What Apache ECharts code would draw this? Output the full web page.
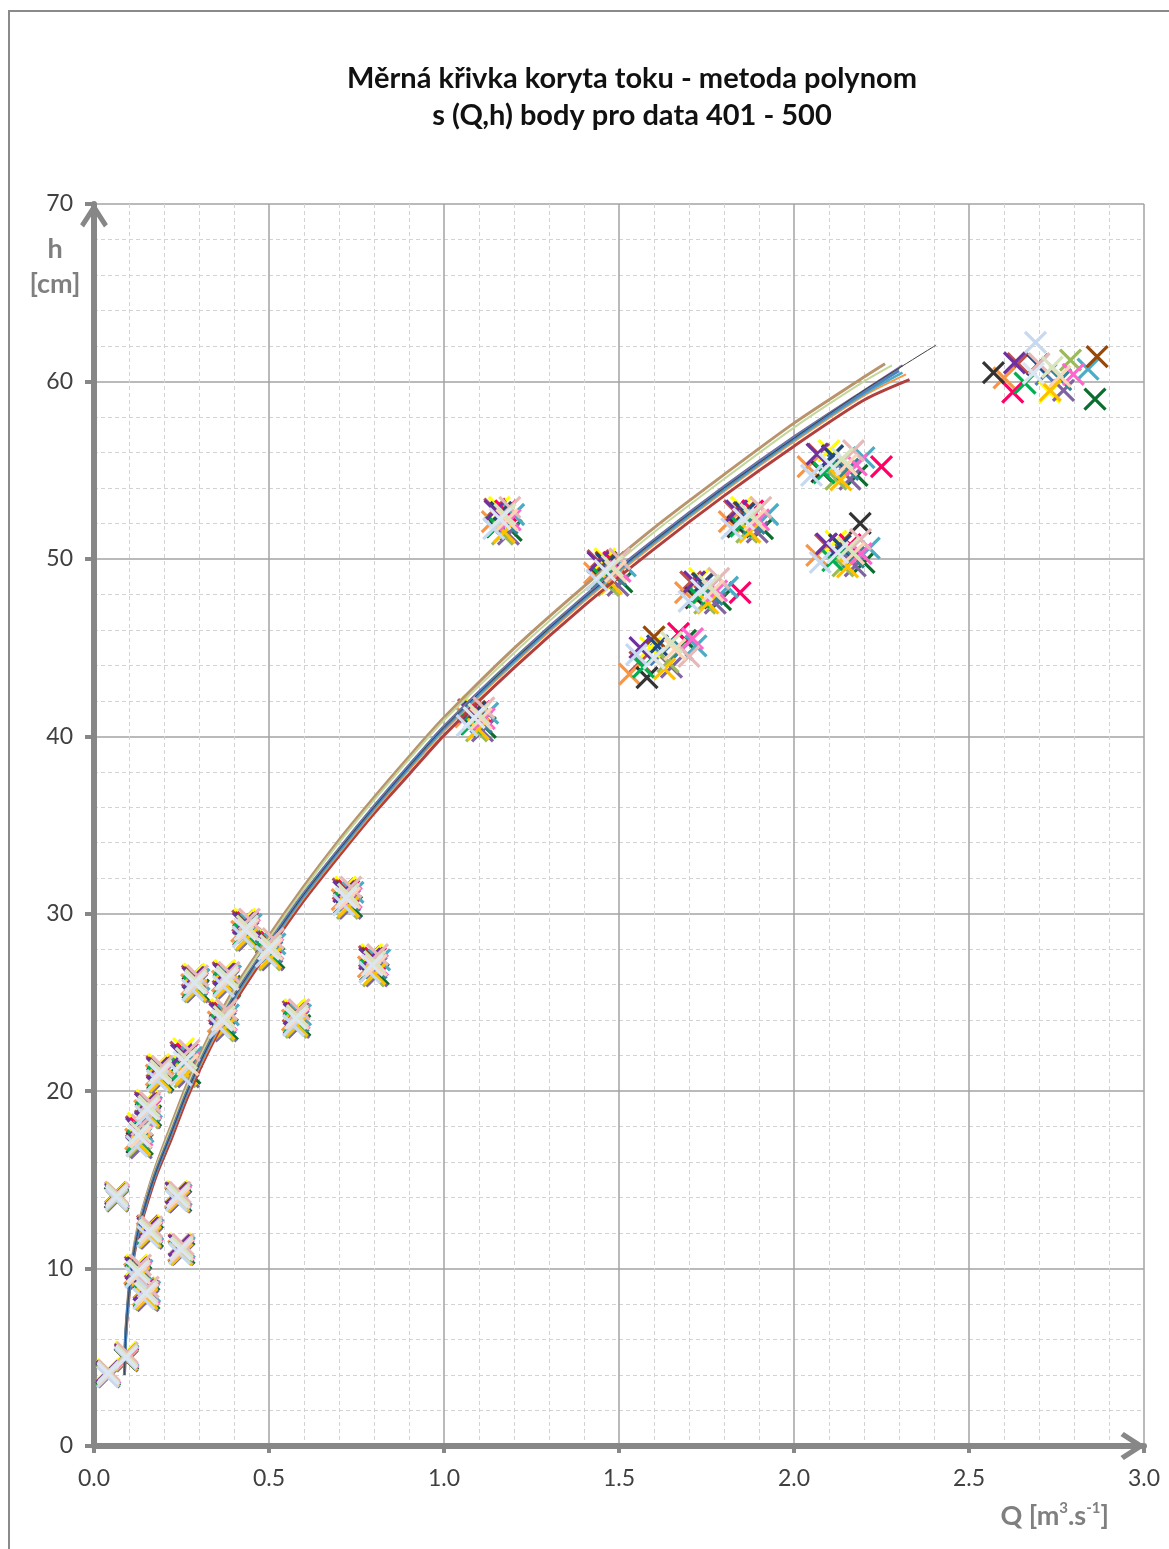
<!DOCTYPE html>
<html>
<head>
<meta charset="utf-8">
<script src="https://cdn.jsdelivr.net/npm/echarts@6/dist/echarts.min.js"></script>
<style>
html,body{margin:0;padding:0;background:#fff;}
#chart{width:1169px;height:1549px;}
</style>
</head>
<body>
<div id="chart"></div>
<script>
// ---- DATA ----
const titleLines = ['Měrná křivka koryta toku - metoda polynom', 's (Q,h) body pro data 401 - 500'];

// marker colours, one per data set (index = position inside each point group)
const markerColors = ['#4F81BD','#C0504D','#0B6E2E','#FFFF00','#8064A2','#F79646','#FF0066',
  '#4BACC6','#333333','#9BBB59','#984807','#E6B9B8','#C6D9F1','#FCD5B5',
  '#1F497D','#31859C','#00B050','#FFC000','#FF66CC','#7030A0','#D7E4BD','#DCE6F2'];
// order in which the data sets are drawn (pale ones last, on top)
const drawOrderLow = [0,1,2,3,4,5,6,7,8,9,10,14,15,16,17,18,19];
const drawOrderHigh = [11,12,13,20,21];

// measured (Q, h) points: one group per measuring point, one entry per data set
const clusterPoints = [
 [[0.041,4.1],[0.038,4.2],[0.044,4.0],[0.040,4.3],[0.043,3.9],[0.039,4.0],[0.042,4.2],[0.045,4.1],[0.037,4.1],[0.041,3.95],[0.040,4.15],[0.043,4.25],[0.039,3.9],[0.042,4.05],[0.040,4.2],[0.042,4.05],[0.039,4.0],[0.041,3.95],[0.044,4.1],[0.038,4.2],[0.041,4.15],[0.040,4.1]],
 [[0.093,5.0],[0.090,5.2],[0.096,4.9],[0.092,5.3],[0.095,4.8],[0.091,5.0],[0.094,5.15],[0.097,5.1],[0.089,4.9],[0.093,4.85],[0.092,5.1],[0.095,5.25],[0.090,4.95],[0.094,5.05],[0.092,5.1],[0.094,4.95],[0.091,4.9],[0.093,4.85],[0.096,5.0],[0.090,5.15],[0.094,5.1],[0.092,5.0]],
 [[0.065,14.1],[0.062,14.3],[0.068,13.9],[0.064,14.3],[0.067,13.8],[0.063,14.0],[0.066,14.2],[0.069,14.1],[0.061,14.0],[0.065,13.85],[0.064,14.15],[0.067,14.25],[0.063,13.9],[0.066,14.05],[0.064,14.15],[0.066,14.0],[0.063,13.95],[0.065,13.9],[0.068,14.05],[0.062,14.2],[0.066,14.15],[0.064,14.05]],
 [[0.127,9.8],[0.118,10.1],[0.134,9.5],[0.122,10.2],[0.131,9.4],[0.116,9.7],[0.129,10.0],[0.137,9.9],[0.120,9.6],[0.126,9.45],[0.124,10.05],[0.133,10.2],[0.119,9.5],[0.130,9.75],[0.125,10.0],[0.131,9.7],[0.122,9.65],[0.128,9.5],[0.134,9.8],[0.120,10.0],[0.129,9.9],[0.124,9.8]],
 [[0.150,8.6],[0.143,8.9],[0.157,8.3],[0.146,8.9],[0.154,8.2],[0.141,8.5],[0.152,8.8],[0.159,8.7],[0.144,8.4],[0.149,8.25],[0.147,8.75],[0.155,8.95],[0.142,8.3],[0.153,8.55],[0.148,8.8],[0.154,8.5],[0.145,8.45],[0.151,8.3],[0.157,8.6],[0.143,8.8],[0.152,8.7],[0.147,8.6]],
 [[0.160,12.1],[0.153,12.4],[0.167,11.8],[0.157,12.4],[0.164,11.7],[0.152,12.0],[0.162,12.3],[0.168,12.2],[0.155,11.9],[0.159,11.75],[0.158,12.25],[0.165,12.35],[0.154,11.8],[0.163,12.05],[0.158,12.25],[0.164,12.0],[0.156,11.95],[0.161,11.8],[0.166,12.1],[0.154,12.3],[0.162,12.2],[0.157,12.1]],
 [[0.241,14.1],[0.234,14.3],[0.248,13.8],[0.238,14.35],[0.245,13.75],[0.233,14.0],[0.243,14.25],[0.249,14.15],[0.236,13.9],[0.240,13.8],[0.239,14.2],[0.246,14.3],[0.235,13.85],[0.244,14.0],[0.239,14.2],[0.245,13.95],[0.237,13.9],[0.242,13.8],[0.247,14.05],[0.235,14.25],[0.243,14.15],[0.238,14.05]],
 [[0.250,11.1],[0.243,11.35],[0.257,10.85],[0.247,11.4],[0.254,10.8],[0.242,11.0],[0.252,11.3],[0.258,11.2],[0.245,10.9],[0.249,10.8],[0.248,11.25],[0.255,11.35],[0.244,10.85],[0.253,11.05],[0.248,11.25],[0.254,11.0],[0.246,10.95],[0.251,10.8],[0.256,11.1],[0.244,11.3],[0.252,11.2],[0.247,11.1]],
 [[0.130,17.5],[0.121,18.0],[0.138,17.0],[0.126,18.2],[0.135,16.8],[0.119,17.3],[0.133,17.9],[0.140,17.7],[0.123,17.1],[0.129,16.9],[0.127,17.8],[0.137,18.1],[0.122,16.9],[0.134,17.4],[0.128,17.8],[0.134,17.35],[0.125,17.2],[0.131,17.0],[0.137,17.5],[0.122,17.9],[0.132,17.7],[0.127,17.5]],
 [[0.155,19.0],[0.147,19.4],[0.162,18.6],[0.151,19.5],[0.159,18.5],[0.145,18.9],[0.157,19.3],[0.164,19.1],[0.149,18.7],[0.154,18.5],[0.152,19.3],[0.160,19.4],[0.148,18.6],[0.158,19.0],[0.153,19.2],[0.159,18.9],[0.150,18.8],[0.156,18.6],[0.162,19.0],[0.147,19.3],[0.157,19.15],[0.152,19.0]],
 [[0.189,21.0],[0.180,21.4],[0.197,20.6],[0.185,21.5],[0.194,20.5],[0.178,20.9],[0.191,21.3],[0.199,21.2],[0.182,20.7],[0.188,20.5],[0.186,21.3],[0.195,21.4],[0.181,20.6],[0.192,21.0],[0.187,21.2],[0.193,20.9],[0.184,20.8],[0.190,20.6],[0.196,21.0],[0.181,21.3],[0.191,21.15],[0.186,21.0]],
 [[0.262,21.6],[0.248,22.2],[0.274,21.0],[0.256,22.4],[0.270,20.8],[0.245,21.4],[0.266,22.1],[0.279,21.9],[0.251,21.1],[0.260,20.8],[0.258,22.0],[0.272,22.3],[0.249,20.9],[0.268,21.5],[0.259,22.0],[0.268,21.4],[0.254,21.25],[0.264,20.95],[0.272,21.6],[0.250,22.05],[0.264,21.85],[0.257,21.65]],
 [[0.290,26.1],[0.281,26.5],[0.298,25.7],[0.286,26.6],[0.295,25.6],[0.279,26.0],[0.292,26.4],[0.300,26.3],[0.283,25.8],[0.289,25.6],[0.287,26.4],[0.296,26.5],[0.282,25.7],[0.293,26.1],[0.288,26.3],[0.293,26.0],[0.285,25.9],[0.291,25.7],[0.296,26.1],[0.283,26.4],[0.291,26.25],[0.287,26.1]],
 [[0.379,26.3],[0.369,26.7],[0.388,25.9],[0.374,26.8],[0.385,25.8],[0.367,26.2],[0.382,26.6],[0.390,26.5],[0.372,26.0],[0.378,25.8],[0.376,26.6],[0.386,26.7],[0.370,25.9],[0.383,26.3],[0.377,26.5],[0.383,26.2],[0.374,26.1],[0.380,25.9],[0.386,26.3],[0.371,26.6],[0.381,26.45],[0.376,26.3]],
 [[0.370,24.0],[0.358,24.5],[0.381,23.5],[0.364,24.6],[0.377,23.4],[0.355,23.9],[0.373,24.4],[0.384,24.3],[0.361,23.7],[0.369,23.4],[0.366,24.4],[0.379,24.6],[0.359,23.6],[0.375,24.0],[0.367,24.3],[0.375,23.85],[0.364,23.7],[0.371,23.5],[0.378,24.0],[0.360,24.35],[0.372,24.2],[0.366,24.0]],
 [[0.436,29.1],[0.425,29.6],[0.446,28.6],[0.431,29.7],[0.442,28.5],[0.422,29.0],[0.439,29.5],[0.449,29.4],[0.428,28.8],[0.435,28.5],[0.433,29.5],[0.444,29.7],[0.426,28.7],[0.440,29.1],[0.434,29.4],[0.440,28.95],[0.430,28.85],[0.437,28.6],[0.444,29.1],[0.427,29.45],[0.438,29.3],[0.432,29.1]],
 [[0.503,28.0],[0.491,28.5],[0.514,27.5],[0.497,28.6],[0.510,27.4],[0.488,27.9],[0.506,28.4],[0.517,28.3],[0.494,27.7],[0.502,27.4],[0.499,28.4],[0.512,28.6],[0.492,27.6],[0.508,28.0],[0.500,28.3],[0.508,27.85],[0.497,27.75],[0.504,27.5],[0.511,28.0],[0.493,28.35],[0.505,28.2],[0.499,28.0]],
 [[0.579,24.1],[0.569,24.5],[0.588,23.7],[0.574,24.6],[0.585,23.6],[0.567,24.0],[0.582,24.4],[0.590,24.3],[0.572,23.8],[0.578,23.6],[0.576,24.4],[0.586,24.6],[0.570,23.7],[0.583,24.1],[0.577,24.3],[0.583,23.95],[0.574,23.9],[0.580,23.7],[0.586,24.1],[0.572,24.35],[0.581,24.25],[0.576,24.1]],
 [[0.725,30.9],[0.712,31.4],[0.736,30.4],[0.719,31.5],[0.732,30.3],[0.709,30.8],[0.728,31.3],[0.740,31.2],[0.716,30.6],[0.724,30.3],[0.721,31.3],[0.734,31.5],[0.713,30.5],[0.730,30.9],[0.722,31.2],[0.730,30.75],[0.718,30.6],[0.727,30.4],[0.735,30.9],[0.714,31.25],[0.727,31.1],[0.720,30.9]],
 [[0.800,27.1],[0.787,27.6],[0.812,26.6],[0.794,27.7],[0.808,26.5],[0.784,27.0],[0.804,27.5],[0.816,27.4],[0.791,26.8],[0.799,26.5],[0.796,27.5],[0.810,27.7],[0.788,26.7],[0.806,27.1],[0.797,27.4],[0.806,26.95],[0.792,26.8],[0.802,26.6],[0.810,27.1],[0.788,27.45],[0.802,27.3],[0.795,27.1]],
 [[1.095,41.0],[1.070,41.5],[1.118,40.5],[1.085,41.7],[1.110,40.3],[1.062,41.1],[1.102,41.4],[1.125,41.3],[1.078,40.7],[1.093,40.3],[1.088,41.4],[1.114,41.6],[1.066,40.6],[1.106,41.0],[1.089,41.35],[1.106,40.8],[1.080,40.7],[1.098,40.4],[1.115,41.0],[1.073,41.4],[1.100,41.25],[1.086,41.05]],
 [[1.169,52.2],[1.145,52.8],[1.192,51.6],[1.158,52.9],[1.184,51.4],[1.138,52.1],[1.176,52.7],[1.199,52.5],[1.152,51.8],[1.167,51.4],[1.162,52.6],[1.188,52.9],[1.142,51.7],[1.180,52.2],[1.163,52.6],[1.180,52.0],[1.154,51.85],[1.172,51.5],[1.189,52.2],[1.146,52.7],[1.174,52.5],[1.160,52.25]],
 [[1.474,49.3],[1.440,49.9],[1.508,48.7],[1.460,50.0],[1.497,48.5],[1.430,49.2],[1.485,49.8],[1.518,49.6],[1.450,48.9],[1.470,48.5],[1.463,49.8],[1.502,50.0],[1.437,48.8],[1.490,49.3],[1.465,49.7],[1.490,49.1],[1.452,48.95],[1.478,48.6],[1.503,49.3],[1.440,49.8],[1.481,49.6],[1.460,49.35]],
 [[1.620,44.6],[1.560,44.2],[1.690,45.4],[1.590,45.0],[1.650,43.9],[1.530,43.5],[1.670,45.8],[1.720,45.1],[1.580,43.3],[1.640,44.2],[1.600,45.6],[1.700,44.5],[1.550,44.6],[1.660,44.9],[1.610,45.1],[1.680,44.9],[1.570,43.9],[1.630,43.8],[1.710,45.5],[1.560,45.0],[1.650,45.3],[1.600,44.4]],
 [[1.750,48.2],[1.705,48.7],[1.790,47.7],[1.730,48.9],[1.775,47.5],[1.690,48.1],[1.846,48.1],[1.810,48.4],[1.720,47.8],[1.745,47.5],[1.738,48.6],[1.785,48.9],[1.700,47.6],[1.768,48.2],[1.741,48.6],[1.766,48.0],[1.728,47.85],[1.754,47.5],[1.779,48.2],[1.716,48.7],[1.757,48.5],[1.736,48.25]],
 [[1.870,52.2],[1.830,52.7],[1.910,51.7],[1.850,52.9],[1.895,51.5],[1.815,52.1],[1.882,52.7],[1.925,52.5],[1.840,51.8],[1.865,51.5],[1.857,52.6],[1.905,52.9],[1.822,51.7],[1.888,52.2],[1.861,52.6],[1.886,52.0],[1.848,51.85],[1.874,51.5],[1.899,52.2],[1.836,52.7],[1.877,52.5],[1.856,52.25]],
 [[2.126,55.3],[2.070,55.9],[2.180,54.7],[2.100,56.1],[2.160,54.5],[2.040,55.2],[2.250,55.2],[2.200,55.7],[2.080,54.9],[2.120,54.5],[2.110,55.8],[2.170,56.1],[2.050,54.7],[2.150,55.3],[2.110,55.8],[2.154,55.05],[2.086,54.85],[2.134,54.45],[2.178,55.3],[2.066,55.9],[2.138,55.65],[2.102,55.35]],
 [[2.146,50.3],[2.090,50.8],[2.200,49.8],[2.120,51.0],[2.175,49.6],[2.065,50.2],[2.160,50.8],[2.215,50.6],[2.189,52.0],[2.140,49.6],[2.130,50.8],[2.190,51.1],[2.075,49.8],[2.170,50.3],[2.132,50.75],[2.170,50.1],[2.111,49.9],[2.153,49.55],[2.192,50.3],[2.093,50.85],[2.156,50.6],[2.125,50.35]],
 [[2.720,60.4],[2.640,61.0],[2.860,59.0],[2.730,59.4],[2.770,59.5],[2.600,60.2],[2.625,59.4],[2.840,60.7],[2.570,60.5],[2.790,61.2],[2.866,61.4],[2.700,61.0],[2.690,62.2],[2.760,60.3],[2.696,60.95],[2.762,60.1],[2.660,59.9],[2.732,59.5],[2.798,60.4],[2.630,61.05],[2.738,60.8],[2.684,60.45]]
];

// rating curves (polynomials of the individual data sets), read at these discharges
const curveQ = [0.087,0.09,0.097,0.107,0.125,0.15,0.18,0.22,0.265,0.32,0.4,0.5,0.6,0.7,0.8,0.9,1.0,1.2,1.4,1.6,1.8,2.0,2.2];
const curveH = [
 [4.0,5.9,7.8,9.8,11.8,13.55,15.35,17.25,19.55,21.95,24.95,27.95,30.75,33.25,35.65,37.85,40.05,43.85,47.35,50.55,53.55,56.35,58.95],
 [4.0,6.1,8.2,10.2,12.3,14.1,15.95,18.05,20.35,22.75,25.75,28.75,31.55,34.15,36.55,38.85,41.05,44.95,48.45,51.75,54.75,57.65,60.25],
 [4.0,6.1,8.15,10.15,12.2,14.0,15.85,17.9,20.2,22.6,25.6,28.6,31.4,34.0,36.4,38.7,40.9,44.7,48.2,51.5,54.5,57.4,60.0],
 [4.0,5.95,7.9,9.9,11.9,13.7,15.5,17.45,19.75,22.1,25.1,28.1,30.9,33.4,35.8,38.1,40.3,44.1,47.6,50.8,53.8,56.6,59.2],
 [4.0,6.05,8.1,10.1,12.1,13.9,15.7,17.7,20.0,22.4,25.4,28.4,31.2,33.7,36.1,38.4,40.6,44.4,47.9,51.1,54.1,56.9,59.5],
 [4.0,6.0,8.05,10.05,12.05,13.85,15.65,17.65,19.95,22.35,25.35,28.35,31.15,33.65,36.05,38.35,40.55,44.35,47.85,51.05,54.05,56.85,59.45],
 [4.0,6.0,7.95,9.95,11.95,13.75,15.55,17.55,19.85,22.25,25.2,28.2,31.0,33.5,35.9,38.2,40.4,44.2,47.7,50.9,53.9,56.7,59.3],
 [4.0,6.0,8.0,10.0,12.0,13.8,15.6,17.6,19.9,22.3,25.3,28.3,31.1,33.6,36.0,38.3,40.5,44.3,47.8,51.0,54.0,56.8,59.4],
 [4.0,6.0,8.0,10.0,12.0,13.8,15.6,17.6,19.9,22.3,25.3,28.3,31.1,33.6,36.0,38.3,40.5,44.3,47.8,51.0,54.0,56.8,59.5]
];
const curveEnd = [[2.33,60.1],[2.26,61.0],[2.28,60.9],[2.32,60.4],[2.31,60.9],[2.30,60.7],[2.31,60.5],[2.30,60.6],[2.406,62.05]];
const curveColors = ['#B0403D','#B8936B','#C4D79B','#F79646','#8064A2','#7F7F7F','#4BACC6','#4F81BD','#404040'];
const curveWidths = [3,3,2,2,2,2,2.5,3,1];

// ---- CHART ----
const FONT = 'Lato, "Open Sans", sans-serif';
const AXIS_GREY = '#878787';
const crossPath = 'path://M0,0L20,20M20,0L0,20';
const chevron = 'path://M50,0L100,78L86,90L50,34L14,90L0,78Z';

const series = [];
function scatterSeries(k, z) {
  return {
    type: 'scatter', name: 'data ' + k, z: z,
    symbol: crossPath, symbolSize: 21, clip: false,
    itemStyle: { color: markerColors[k], borderColor: markerColors[k], borderWidth: 3.2, opacity: 1 },
    emphasis: { disabled: true },
    data: clusterPoints.map(c => c[k])
  };
}
drawOrderLow.forEach(k => series.push(scatterSeries(k, 2)));
curveH.forEach((hs, i) => {
  const pts = curveQ.map((q, j) => [q, hs[j]]);
  pts.push(curveEnd[i]);
  series.push({
    type: 'line', z: 3, showSymbol: false, smooth: 0.25, clip: false,
    lineStyle: { color: curveColors[i], width: curveWidths[i] },
    emphasis: { disabled: true },
    data: pts
  });
});
drawOrderHigh.forEach(k => series.push(scatterSeries(k, 4)));

const chart = echarts.init(document.getElementById('chart'), null, { renderer: 'canvas' });
chart.setOption({
  animation: false,
  backgroundColor: '#fff',
  title: {
    text: titleLines.join('\n'),
    left: 627, top: 55, textAlign: 'center',
    textStyle: { fontFamily: FONT, fontSize: 29, fontWeight: 'bold', color: '#111', lineHeight: 37 }
  },
  grid: { left: 94, right: 25, top: 204, bottom: 103, containLabel: false },
  xAxis: {
    type: 'value', min: 0, max: 3, interval: 0.5,
    axisLine: { show: true, onZero: false, symbol: ['none', chevron], symbolSize: [28, 25], symbolOffset: [0, -11],
      lineStyle: { color: AXIS_GREY, width: 6 } },
    axisTick: { show: true, length: 7, lineStyle: { color: AXIS_GREY, width: 4 } },
    axisLabel: { fontFamily: FONT, fontSize: 23, color: '#404040', margin: 21, formatter: v => v.toFixed(1) },
    splitLine: { show: true, lineStyle: { color: '#A3A3A3', width: 1.5 } },
    minorTick: { show: false, splitNumber: 5 },
    minorSplitLine: { show: true, lineStyle: { color: '#D3D3D3', width: 1, type: [4, 3] } }
  },
  yAxis: {
    type: 'value', min: 0, max: 70, interval: 10,
    axisLine: { show: true, onZero: false, symbol: ['none', chevron], symbolSize: [28, 25], symbolOffset: [0, -11],
      lineStyle: { color: AXIS_GREY, width: 6 } },
    axisTick: { show: true, length: 9, lineStyle: { color: AXIS_GREY, width: 4 } },
    axisLabel: { fontFamily: FONT, fontSize: 23, color: '#404040', margin: 21 },
    splitLine: { show: true, lineStyle: { color: '#A3A3A3', width: 1.5 } },
    minorTick: { show: false, splitNumber: 5 },
    minorSplitLine: { show: true, lineStyle: { color: '#D3D3D3', width: 1, type: [4, 3] } }
  },
  graphic: [
    { type: 'polyline', z: 100, shape: { points: [[9, 1549], [9, 11], [1169, 11]] },
      style: { stroke: '#8A8A8A', lineWidth: 2, fill: null } },
    { type: 'text', x: 55, y: 249, z: 100,
      style: { text: 'h', fontFamily: FONT, fontSize: 27, fontWeight: 'bold', fill: '#7F7F7F', align: 'center', verticalAlign: 'middle' } },
    { type: 'text', x: 55, y: 284, z: 100,
      style: { text: '[cm]', fontFamily: FONT, fontSize: 27, fontWeight: 'bold', fill: '#7F7F7F', align: 'center', verticalAlign: 'middle' } },
    { type: 'text', x: 1109, y: 1516, z: 100,
      style: {
        text: '{a|Q [m}{s|3}{a|.s}{s|-1}{a|]}', align: 'right', verticalAlign: 'middle',
        rich: {
          a: { fontFamily: FONT, fontSize: 27, fontWeight: 'bold', fill: '#7F7F7F', lineHeight: 30 },
          s: { fontFamily: FONT, fontSize: 15, fontWeight: 'bold', fill: '#7F7F7F', lineHeight: 16, verticalAlign: 'top' }
        }
      } }
  ],
  series: series
});
</script>
</body>
</html>
